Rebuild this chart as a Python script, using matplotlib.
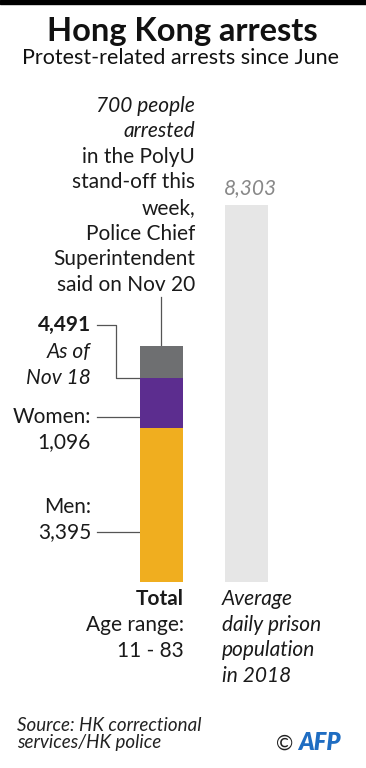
import matplotlib
matplotlib.use("Agg")
import matplotlib.pyplot as plt
from matplotlib.patches import Rectangle

plt.rcParams['font.family'] = ['Lato', 'DejaVu Sans']

# ---- data ----
categories = ["Total", "Prison"]
men = 3395
women = 1096
total = 4491
polyu_extra = 700
prison_avg = 8303

YELLOW = "#F0AE1F"
PURPLE = "#5C2D8F"
DGRAY = "#6E6F71"
LGRAY = "#E6E6E6"
LINE = "#555555"

W, H = 366, 768
fig = plt.figure(figsize=(W / 100, H / 100), dpi=100)

# overlay axes in pixel coords (top-left origin)
ov = fig.add_axes([0, 0, 1, 1])
ov.set_xlim(0, W)
ov.set_ylim(H, 0)
ov.axis("off")

# bar axes: y=0 at pixel 582, y=8303 at pixel 205
y0_px, ytop_px = 582, 205
x_left_px, x_right_px = 100, 300
bax = fig.add_axes([x_left_px / W, (H - y0_px) / H,
                    (x_right_px - x_left_px) / W, (y0_px - ytop_px) / H])
bax.set_ylim(0, prison_avg)
cx0, step = 161, 85.5
bax.set_xlim((x_left_px - cx0) / step, (x_right_px - cx0) / step)
bax.axis("off")
bw = 43 / step

bax.bar(0, men, width=bw, color=YELLOW, linewidth=0)
bax.bar(0, women, bottom=men, width=bw, color=PURPLE, linewidth=0)
bax.bar(0, polyu_extra, bottom=total, width=bw, color=DGRAY, linewidth=0)
bax.bar(1, prison_avg, width=bw, color=LGRAY, linewidth=0)


def to_px(x, y):
    dx, dy = bax.transData.transform((x, y))
    return dx, H - dy


# top black band
ov.add_patch(Rectangle((0, 0), W, 4, color="black", zorder=5))

# title
ov.text(W / 2 - 1, 41, "Hong Kong arrests", ha="center", va="baseline",
        fontsize=23.5, fontweight="bold", color="#111111")
ov.text(W / 2 - 2, 64, "Protest-related arrests since June", ha="center",
        va="baseline", fontsize=15.5, color="#111111")

FS = 15
TXT = "#1a1a1a"

# PolyU annotation block
block = [("700 people", True), ("arrested", True), ("in the PolyU", False),
         ("stand-off this", False), ("week,", False), ("Police Chief", False),
         ("Superintendent", False), ("said on Nov 20", False)]
for i, (s, it) in enumerate(block):
    ov.text(195, 111.5 + i * 25.6, s, ha="right", va="baseline", fontsize=FS,
            style="italic" if it else "normal", color=TXT)

# dot and vertical line in gray segment
dot_x, dot_y = to_px(0, total + polyu_extra / 2)
ov.plot([dot_x, dot_x], [dot_y, 297], color=LINE, lw=0.9)
ov.plot([dot_x], [dot_y], "o", color="black", ms=3.5)

# 8,303 label
px_, py_ = to_px(1, prison_avg)
ov.text(px_ + 4, 194, f"{prison_avg:,}", ha="center", va="baseline",
        fontsize=FS, style="italic", color="#888888")

# left labels
RX = 91
ov.text(RX, 331, f"{total:,}", ha="right", va="baseline", fontsize=FS,
        fontweight="bold", color=TXT)
ov.text(RX, 358, "As of", ha="right", va="baseline", fontsize=FS,
        style="italic", color=TXT)
ov.text(RX, 384, "Nov 18", ha="right", va="baseline", fontsize=FS,
        style="italic", color=TXT)
bl_x, tot_y = to_px(-bw / 2, total)
ov.plot([97, 116, 116, bl_x], [325, 325, tot_y, tot_y], color=LINE, lw=0.9)

ov.text(RX, 423, "Women:", ha="right", va="baseline", fontsize=FS, color=TXT)
ov.text(RX, 448, f"{women:,}", ha="right", va="baseline", fontsize=FS, color=TXT)
ov.plot([97, bl_x], [417, 417], color=LINE, lw=0.9)

ov.text(RX, 513, "Men:", ha="right", va="baseline", fontsize=FS, color=TXT)
ov.text(RX, 538, f"{men:,}", ha="right", va="baseline", fontsize=FS, color=TXT)
ov.plot([97, bl_x], [532, 532], color=LINE, lw=0.9)

# below bars
ov.text(184, 605, "Total", ha="right", va="baseline", fontsize=FS,
        fontweight="bold", color=TXT)
ov.text(184, 631, "Age range:", ha="right", va="baseline", fontsize=FS, color=TXT)
ov.text(184, 657, "11 - 83", ha="right", va="baseline", fontsize=FS, color=TXT)

for i, s in enumerate(["Average", "daily prison", "population", "in 2018"]):
    ov.text(222, 605 + i * 25.7, s, ha="left", va="baseline", fontsize=FS,
            style="italic", color=TXT)

# source
ov.text(17, 731, "Source: HK correctional", ha="left", va="baseline",
        fontsize=13.5, style="italic", color="#222222")
ov.text(17, 748, "services/HK police", ha="left", va="baseline",
        fontsize=13.5, style="italic", color="#222222")

# AFP logo
ov.text(285, 750, "\u00a9", ha="center", va="baseline", fontsize=15, color="#222222")
ov.text(298, 750, "AFP", ha="left", va="baseline", fontsize=17,
        fontweight="heavy", style="italic", color="#1F6DC2")

fig.savefig("out.png", dpi=100, facecolor="white")
